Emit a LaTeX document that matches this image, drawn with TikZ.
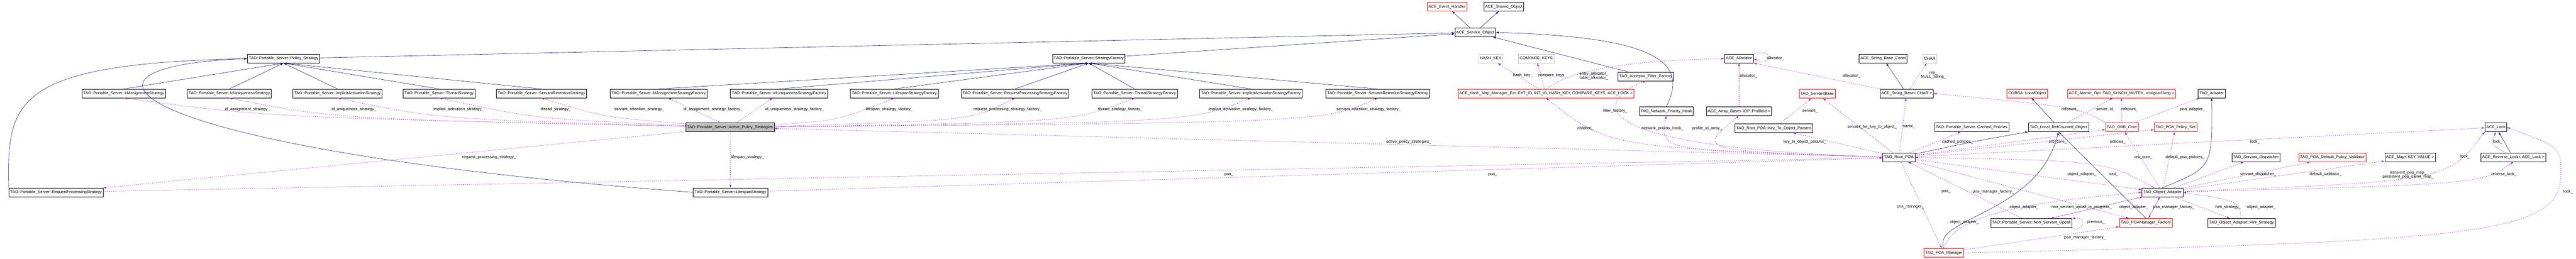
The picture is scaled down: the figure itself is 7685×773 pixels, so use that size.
\documentclass[tikz,border=0pt]{standalone}
\usepackage{fontspec}
\setmainfont{Liberation Sans}
\usetikzlibrary{arrows.meta}
\definecolor{navyc}{RGB}{25,25,112}
\definecolor{usec}{RGB}{153,50,204}
\definecolor{grayc}{RGB}{191,191,191}
\begin{document}
\begin{tikzpicture}[
		x=1pt, y=-1pt,
		cls/.style={draw, font=\fontsize{12}{14}\selectfont, inner xsep=4pt, minimum height=26pt, line width=0.9pt},
		redcls/.style={cls, draw=red},
		graycls/.style={cls, draw=grayc},
		inh/.style={-{Latex[length=9pt,width=6pt]}, draw=navyc, line width=0.9pt},
		use/.style={-{Latex[length=9pt,width=6pt]}, draw=usec, dashed, line width=0.9pt},
		lbl/.style={font=\fontsize{12}{13}\selectfont, align=center, inner sep=1pt}
	]
	\useasboundingbox (0,0) rectangle (7685,773);
	% base classes
	\node[redcls] (evh) at (4317,20) {ACE\_Event\_Handler};
	\node[cls] (shob) at (4486,20) {ACE\_Shared\_Object};
	\node[cls] (svob) at (4401,97) {ACE\_Service\_Object};
	\node[cls] (ps) at (846,175) {TAO::Portable\_Server::Policy\_Strategy};
	\node[cls] (sf) at (3248,175) {TAO::Portable\_Server::StrategyFactory};
	\node[graycls] (hkey) at (4447,175) {HASH\_KEY};
	\node[graycls] (ckey) at (4583,175) {COMPARE\_KEYS};
	\node[cls] (alloc) at (5188,175) {ACE\_Allocator};
	\node[cls] (sbc) at (5618,175) {ACE\_String\_Base\_Const};
	\node[graycls] (chr) at (5757,175) {CHAR};
	\node[cls] (aff) at (4910,228) {TAO\_Acceptor\_Filter\_Factory};
	% strategies and factories
	\node[cls] (ias) at (369,279) {TAO::Portable\_Server::IdAssignmentStrategy};
	\node[cls] (ius) at (684,279) {TAO::Portable\_Server::IdUniquenessStrategy};
	\node[cls] (iacs) at (1007,279) {TAO::Portable\_Server::ImplicitActivationStrategy};
	\node[cls] (ths) at (1310,279) {TAO::Portable\_Server::ThreadStrategy};
	\node[cls] (srs) at (1615,279) {TAO::Portable\_Server::ServantRetentionStrategy};
	\node[cls] (iasf) at (1965,279) {TAO::Portable\_Server::IdAssignmentStrategyFactory};
	\node[cls] (iusf) at (2324,279) {TAO::Portable\_Server::IdUniquenessStrategyFactory};
	\node[cls] (lsf) at (2668,279) {TAO::Portable\_Server::LifespanStrategyFactory};
	\node[cls] (rpsf) at (3028,279) {TAO::Portable\_Server::RequestProcessingStrategyFactory};
	\node[cls] (thsf) at (3385,279) {TAO::Portable\_Server::ThreadStrategyFactory};
	\node[cls] (iacsf) at (3732,279) {TAO::Portable\_Server::ImplicitActivationStrategyFactory};
	\node[cls] (srsf) at (4110,279) {TAO::Portable\_Server::ServantRetentionStrategyFactory};
	\node[redcls] (hmap) at (4612,279) {ACE\_Hash\_Map\_Manager\_Ex< EXT\_ID, INT\_ID, HASH\_KEY, COMPARE\_KEYS, ACE\_LOCK >};
	\node[redcls] (sbase) at (5421,280) {TAO\_ServantBase};
	\node[cls] (str) at (5688,279) {ACE\_String\_Base< CHAR >};
	\node[redcls] (lobj) at (6048,279) {CORBA::LocalObject};
	\node[redcls] (atom) at (6329,279) {ACE\_Atomic\_Op< TAO\_SYNCH\_MUTEX, unsigned long >};
	\node[cls] (adpt) at (6598,279) {TAO\_Adapter};
	\node[cls] (nph) at (4971,332) {TAO\_Network\_Priority\_Hook};
	\node[cls] (arr) at (5188,332) {ACE\_Array\_Base< IOP::ProfileId >};
	% poa level
	\node[cls, fill=grayc] (aps) at (2178,380) {TAO::Portable\_Server::Active\_Policy\_Strategies};
	\node[cls] (ktop) at (5292,383) {TAO\_Root\_POA::Key\_To\_Object\_Params};
	\node[cls] (cpol) at (5882,380) {TAO::Portable\_Server::Cached\_Policies};
	\node[cls] (lrc) at (6141,380) {TAO\_Local\_RefCounted\_Object};
	\node[redcls] (orb) at (6330,380) {TAO\_ORB\_Core};
	\node[redcls] (pset) at (6490,380) {TAO\_POA\_Policy\_Set};
	\node[cls] (lock) at (7446,380) {ACE\_Lock};
	\node[cls] (rpoa) at (5665,470) {TAO\_Root\_POA};
	\node[cls] (sdisp) at (6730,470) {TAO\_Servant\_Dispatcher};
	\node[redcls] (dval) at (6958,470) {TAO\_POA\_Default\_Policy\_Validator};
	\node[cls] (amap) at (7190,470) {ACE\_Map< KEY, VALUE >};
	\node[cls] (rlock) at (7498,470) {ACE\_Reverse\_Lock< ACE\_Lock >};
	\node[cls] (rps) at (167,574) {TAO::Portable\_Server::RequestProcessingStrategy};
	\node[cls] (lss) at (2179,574) {TAO::Portable\_Server::LifespanStrategy};
	\node[cls] (oad) at (6451,574) {TAO\_Object\_Adapter};
	\node[cls] (nsu) at (6060,665) {TAO::Portable\_Server::Non\_Servant\_Upcall};
	\node[redcls] (pmf) at (6402,665) {TAO\_POAManager\_Factory};
	\node[cls] (hint) at (6687,665) {TAO\_Object\_Adapter::Hint\_Strategy};
	\node[redcls] (pman) at (5799,755) {TAO\_POA\_Manager};

	% inheritance
	\draw[inh] (svob) -- (evh);
	\draw[inh] (svob) -- (shob);
	\draw[inh] (ps) -- (svob);
	\draw[inh] (sf) -- (svob);
	\draw[inh] (aff) -- (svob);
	\draw[inh] (nph.north) .. controls (5030,200) and (4980,110) .. (svob.east);
	\foreach \s in {ias,ius,iacs,ths,srs}
		\draw[inh] (\s.north) -- (ps.south);
	\foreach \s in {iasf,iusf,lsf,rpsf,thsf,iacsf,srsf}
		\draw[inh] (\s.north) -- (sf.south);
	\draw[inh] (rps.north west) .. controls (20,300) and (40,190) .. (ps.west);
	\draw[inh] (lss.west) .. controls (400,450) and (100,200) .. (ps.west);
	\draw[inh] (str) -- (sbc);
	\draw[inh] (lrc) -- (lobj);
	\draw[inh] (rpoa) .. controls (5900,420) .. (lrc.south west);
	\draw[inh] (pman.north) .. controls (5760,650) and (6080,640) .. (lrc.south);
	\draw[inh] (pmf.north) -- (lrc.south);
	\draw[inh] (oad.north) .. controls (6600,500) .. (adpt.south);
	\draw[inh] (rlock) -- (lock);

	% usage
	\draw[use] (aps) .. controls (800,350) .. (ias.south);
	\draw[use] (aps) .. controls (1000,355) .. (ius.south);
	\draw[use] (aps) .. controls (1300,355) .. (iacs.south);
	\draw[use] (aps) .. controls (1600,355) .. (ths.south);
	\draw[use] (aps) .. controls (1800,350) .. (srs.south);
	\draw[use] (aps) -- (iasf);
	\draw[use] (aps) -- (iusf);
	\draw[use] (aps) .. controls (2500,360) .. (lsf.south);
	\draw[use] (aps) .. controls (2900,360) .. (rpsf.south);
	\draw[use] (aps) .. controls (3200,365) .. (thsf.south);
	\draw[use] (aps) .. controls (3550,365) .. (iacsf.south);
	\draw[use] (aps) .. controls (3950,365) .. (srsf.south);
	\draw[use] (aps) -- (rps);
	\draw[use] (aps) -- (lss);
	\draw[use] (rps) -- (rpoa);
	\draw[use] (lss) -- (rpoa);
	\draw[use] (rpoa) -- (aps);
	\draw[use] (hmap) -- (hkey);
	\draw[use] (hmap) -- (ckey);
	\draw[use] (hmap.north) .. controls (4700,200) and (4900,180) .. (alloc.west);
	\draw[use] (rpoa) .. controls (4800,440) .. (hmap.south);
	\draw[use] (rpoa) .. controls (4700,440) and (4760,300) .. (aff.south);
	\draw[use] (rpoa) .. controls (4950,450) .. (nph.south);
	\draw[use] (rpoa) .. controls (5060,450) .. (arr.south);
	\draw[use] (arr) -- (alloc);
	\draw[use] (alloc.north east) .. controls (5290,140) and (5290,200) .. (alloc.east);
	\draw[use] (str.north west) -- (alloc.south east);
	\draw[use] (str) -- (chr);
	\draw[use] (ktop) -- (sbase);
	\draw[use] (rpoa) -- (ktop);
	\draw[use] (rpoa) -- (sbase);
	\draw[use] (rpoa) -- (str);
	\draw[use] (rpoa) -- (cpol);
	\draw[use] (rpoa) -- (orb);
	\draw[use] (rpoa) -- (pset);
	\draw[use] (rpoa) -- (lock);
	\draw[use] (rpoa) -- (oad);
	\draw[use] (oad) .. controls (6280,480) .. (rpoa.east);
	\draw[use] (rpoa) -- (pman);
	\draw[use] (nsu) -- (rpoa);
	\draw[use] (rpoa) -- (pmf);
	\draw[use] (lrc) -- (atom);
	\draw[use] (orb) -- (atom);
	\draw[use] (orb.north west) .. controls (6200,320) .. (str.east);
	\draw[use] (orb) -- (adpt);
	\draw[use] (oad) -- (orb);
	\draw[use] (oad) -- (pset);
	\draw[use] (oad) -- (sdisp);
	\draw[use] (oad) -- (dval);
	\draw[use] (oad) -- (amap);
	\draw[use] (oad) .. controls (7300,540) .. (lock.south west);
	\draw[use] (oad) .. controls (7400,550) .. (rlock.south);
	\draw[use] (rlock) .. controls (7430,430) .. (lock.south);
	\draw[use] (oad) -- (hint);
	\draw[use] (hint) .. controls (6680,600) .. (oad.east);
	\draw[use] (oad) -- (nsu);
	\draw[use] (nsu) -- (oad);
	\draw[use] (nsu.south east) .. controls (6200,700) and (6240,650) .. (nsu.north east);
	\draw[use] (oad) -- (pmf);
	\draw[use] (pmf) -- (oad);
	\draw[use] (pman.north) .. controls (5830,630) and (6100,600) .. (oad.west);
	\draw[use] (pman) -- (pmf);
	\draw[use] (pman.east) .. controls (7400,720) and (7640,700) .. (7640,520) .. controls (7640,440) .. (lock.east);

	% member labels
	\node[lbl] (l1) at (738,327) {id\_assignment\_strategy\_};
	\node[lbl] (l2) at (1056,327) {id\_uniqueness\_strategy\_};
	\node[lbl] (l3) at (1368,327) {implicit\_activation\_strategy\_};
	\node[lbl] (l4) at (1658,327) {thread\_strategy\_};
	\node[lbl] (l5) at (1907,327) {servant\_retention\_strategy\_};
	\node[lbl] (l6) at (2127,327) {id\_assignment\_strategy\_factory\_};
	\node[lbl] (l7) at (2371,327) {id\_uniqueness\_strategy\_factory\_};
	\node[lbl] (l8) at (2653,327) {lifespan\_strategy\_factory\_};
	\node[lbl] (l9) at (3006,327) {request\_processing\_strategy\_factory\_};
	\node[lbl] (l10) at (3342,327) {thread\_strategy\_factory\_};
	\node[lbl] (l11) at (3702,327) {implicit\_activation\_strategy\_factory\_};
	\node[lbl] (l12) at (4083,327) {servant\_retention\_strategy\_factory\_};
	\node[lbl] (l13) at (1459,469) {request\_processing\_strategy\_};
	\node[lbl] (l14) at (2230,469) {lifespan\_strategy\_};
	\node[lbl] (l15) at (4203,424) {active\_policy\_strategies\_};
	\node[lbl] (l16) at (3666,521) {poa\_};
	\node[lbl] (l17) at (4453,521) {poa\_};
	\node[lbl] (l18) at (4543,225) {hash\_key\_};
	\node[lbl] (l19) at (4631,225) {compare\_keys\_};
	\node[lbl] (l20) at (4755,227) {entry\_allocator\_\\table\_allocator\_};
	\node[lbl] (l21) at (4730,383) {children\_};
	\node[lbl] (l22) at (4819,331) {filter\_factory\_};
	\node[lbl] (l23) at (4960,383) {network\_priority\_hook\_};
	\node[lbl] (l24) at (5093,383) {profile\_id\_array\_};
	\node[lbl] (l25) at (5216,226) {allocator\_};
	\node[lbl] (l26) at (5297,174) {allocator\_};
	\node[lbl] (l27) at (5524,226) {allocator\_};
	\node[lbl] (l28) at (5768,225) {rep\_\\NULL\_String\_};
	\node[lbl] (l29) at (5400,331) {servant\_};
	\node[lbl] (l30) at (5585,379) {servant\_for\_key\_to\_object\_};
	\node[lbl] (l31) at (5695,379) {name\_};
	\node[lbl] (l32) at (5384,424) {key\_to\_object\_params\_};
	\node[lbl] (l33) at (5840,424) {cached\_policies\_};
	\node[lbl] (l34) at (6139,424) {orb\_core\_};
	\node[lbl] (l35) at (6318,424) {policies\_};
	\node[lbl] (l36) at (6727,423) {lock\_};
	\node[lbl] (l37) at (6394,469) {orb\_core\_};
	\node[lbl] (l38) at (6519,469) {default\_poa\_policies\_};
	\node[lbl] (l39) at (6211,521) {object\_adapter\_};
	\node[lbl] (l40) at (6305,521) {root\_};
	\node[lbl] (l41) at (5806,572) {poa\_};
	\node[lbl] (l42) at (5947,572) {poa\_manager\_factory\_};
	\node[lbl] (l43) at (5699,618) {poa\_manager\_};
	\node[lbl] (l44) at (6038,618) {object\_adapter\_};
	\node[lbl] (l45) at (6210,618) {non\_servant\_upcall\_in\_progress\_};
	\node[lbl] (l46) at (6366,618) {object\_adapter\_};
	\node[lbl] (l47) at (6485,618) {poa\_manager\_factory\_};
	\node[lbl] (l48) at (5860,663) {object\_adapter\_};
	\node[lbl] (l49) at (6253,663) {previous\_};
	\node[lbl] (l50) at (6220,709) {poa\_manager\_factory\_};
	\node[lbl] (l51) at (6647,618) {hint\_strategy\_};
	\node[lbl] (l52) at (6746,618) {object\_adapter\_};
	\node[lbl] (l53) at (6737,520) {servant\_dispatcher\_};
	\node[lbl] (l54) at (6938,520) {default\_validator\_};
	\node[lbl] (l55) at (7184,522) {transient\_poa\_map\_\\persistent\_poa\_name\_map\_};
	\node[lbl] (l56) at (7354,468) {lock\_};
	\node[lbl] (l57) at (7451,423) {lock\_};
	\node[lbl] (l58) at (7470,520) {reverse\_lock\_};
	\node[lbl] (l59) at (7662,572) {lock\_};
	\node[lbl] (l60) at (6176,327) {refcount\_};
	\node[lbl] (l61) at (6282,327) {server\_id\_};
	\node[lbl] (l62) at (6353,327) {refcount\_};
	\node[lbl] (l63) at (6541,327) {poa\_adapter\_};
\end{tikzpicture}
\end{document}
